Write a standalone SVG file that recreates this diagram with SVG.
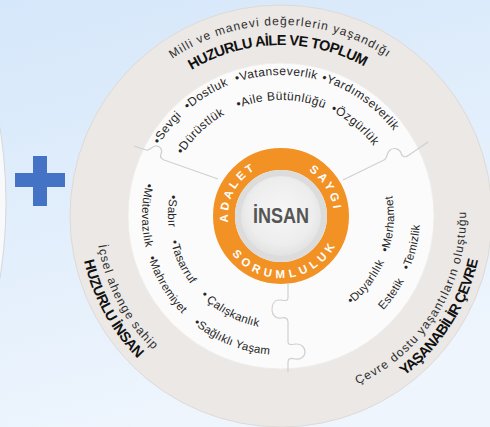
<svg xmlns="http://www.w3.org/2000/svg" width="490" height="427" viewBox="0 0 490 427">
<defs>
  <linearGradient id="bg" x1="0" y1="0" x2="0.3" y2="1">
    <stop offset="0" stop-color="#d5e7fa"/>
    <stop offset="1" stop-color="#eef5fd"/>
  </linearGradient>
  <radialGradient id="plate" cx="0.5" cy="0.45" r="0.55">
    <stop offset="0" stop-color="#f7f7f7"/>
    <stop offset="0.75" stop-color="#ededed"/>
    <stop offset="1" stop-color="#e2e2e2"/>
  </radialGradient>
  <path id="tp191" d="M134.69,338.77 A191,191 0 1 1 427.31,338.77"/>
  <path id="tp171" d="M150.01,325.92 A171,171 0 1 1 411.99,325.92"/>
  <path id="tp141" d="M172.99,306.63 A141,141 0 1 1 389.01,306.63"/>
  <path id="tp116" d="M192.14,290.56 A116,116 0 1 1 369.86,290.56"/>
  <path id="tp53" d="M240.40,250.07 A53,53 0 1 1 321.60,250.07"/>
  <path id="bp202" d="M126.26,86.16 A202,202 0 1 0 435.74,86.16"/>
  <path id="bp185" d="M139.28,97.08 A185,185 0 1 0 422.72,97.08"/>
  <path id="bp139" d="M174.52,126.65 A139,139 0 1 0 387.48,126.65"/>
  <path id="bp113" d="M194.44,143.36 A113,113 0 1 0 367.56,143.36"/>
  <path id="bp62" d="M233.51,176.15 A62,62 0 1 0 328.49,176.15"/>
</defs>
<style>
  text { font-family: "Liberation Sans", Arial, sans-serif; text-anchor: middle; }
  .val { font-size: 12px; fill: #262626; letter-spacing: 0.45px; }
  .valb { font-size: 11.5px; fill: #262626; letter-spacing: 0.25px; }
  .sub { font-size: 12px; fill: #2e2e2e; }
  .ttl { font-size: 14.5px; font-weight: bold; fill: #111111; }
  .ring { font-size: 11.5px; font-weight: bold; fill: #ffffff; }
  .puz { fill: none; stroke: #d0d0d0; stroke-width: 1.2; }
</style>

<rect width="490" height="427" fill="url(#bg)"/>

<g id="left-circle">
  <circle cx="-466" cy="203" r="472" fill="#f8f9fa" stroke="#d6d8da" stroke-width="1"/>
</g>

<g id="plus">
  <rect x="15" y="173" width="50" height="14" fill="#4472c4"/>
  <rect x="33" y="156" width="14" height="50" fill="#4472c4"/>
</g>

<g id="outer-ring">
  <circle cx="281" cy="216" r="211" fill="#ebe8e6" stroke="#dddad8" stroke-width="1"/>
  <circle cx="281" cy="216" r="153" fill="#fbfbfb" stroke="#f0eeec" stroke-width="1"/>
</g>

<g id="puzzle-lines">
  <path class="puz" d="M288,284 V298 C288,302 283,300 279,300 C274,300 272,305 272,310 C272,315 276,319 281,318 C285,317 288,318 288,322 V342 C288,346 293,344 297,344 C302,344 305,348 305,352 C305,357 300,360 295,359 C291,358 288,358 288,362 V372"/>
  <path class="puz" d="M134,146 L146,150 C150,151 151,147 155,146 C160,145 163,150 161,154 C159,158 163,160 167,161 L218,179"/>
  <path class="puz" d="M343,180 L384,160 C388,158 386,153 390,150 C394,147 400,149 401,153 C402,157 405,158 409,155 L428,142"/>
</g>

<g id="title-top">
  <text class="sub"><textPath href="#tp191" startOffset="431.7" textLength="228">Milli ve manevi değerlerin yaşandığı</textPath></text>
  <text class="ttl"><textPath href="#tp171" startOffset="384.41" textLength="181">HUZURLU AİLE VE TOPLUM</textPath></text>
</g>

<g id="title-left">
  <text class="ttl"><textPath href="#bp202" startOffset="242.56" textLength="113">HUZURLU İNSAN</textPath></text>
  <text class="sub"><textPath href="#bp185" startOffset="218.59" textLength="120">İçsel ahenge sahip</textPath></text>
</g>

<g id="title-right">
  <text class="ttl"><textPath href="#bp202" startOffset="661.04" textLength="140">YAŞANABİLİR ÇEVRE</textPath></text>
  <text class="sub"><textPath href="#bp185" startOffset="606.38" textLength="216">Çevre dostu yaşantıların oluştuğu</textPath></text>
</g>

<g id="values-top">
  <text class="val"><textPath href="#tp141" startOffset="191.21">•Sevgi</textPath></text>
  <text class="val"><textPath href="#tp141" startOffset="242.15">•Dostluk</textPath></text>
  <text class="val"><textPath href="#tp141" startOffset="315">•Vatanseverlik</textPath></text>
  <text class="val"><textPath href="#tp141" startOffset="405.31">•Yardımseverlik</textPath></text>
  <text class="val"><textPath href="#tp116" startOffset="174.92">•Dürüstlük</textPath></text>
  <text class="val"><textPath href="#tp116" startOffset="263.2">•Aile Bütünlüğü</textPath></text>
  <text class="val"><textPath href="#tp116" startOffset="342.15">•Özgürlük</textPath></text>
</g>

<g id="values-left">
  <text class="valb"><textPath href="#bp139" startOffset="96.31">•Mütevazılık</textPath></text>
  <text class="valb"><textPath href="#bp139" startOffset="172.26">•Mahremiyet</textPath></text>
  <text class="valb"><textPath href="#bp139" startOffset="262.26">•Sağlıklı Yaşam</textPath></text>
  <text class="valb"><textPath href="#bp113" startOffset="73.76">•Sabır</textPath></text>
  <text class="valb"><textPath href="#bp113" startOffset="128">•Tasarruf</textPath></text>
  <text class="valb"><textPath href="#bp113" startOffset="200.18">• Çalışkanlık</textPath></text>
</g>

<g id="values-right">
  <text class="valb"><textPath href="#bp139" startOffset="448.08">Estetik</textPath></text>
  <text class="valb"><textPath href="#bp139" startOffset="500.97">•Temizlik</textPath></text>
  <text class="valb"><textPath href="#bp113" startOffset="358.94">•Duyarlılık</textPath></text>
  <text class="valb"><textPath href="#bp113" startOffset="425.01">•Merhamet</textPath></text>
</g>

<g id="orange-ring">
  <circle cx="281" cy="216" r="57" fill="none" stroke="#f29225" stroke-width="22"/>
  <text class="ring" style="letter-spacing:3px"><textPath href="#tp53" startOffset="62.9">ADALET</textPath></text>
  <text class="ring" style="letter-spacing:3px"><textPath href="#tp53" startOffset="173.9">SAYGI</textPath></text>
  <text class="ring" style="letter-spacing:4.5px"><textPath href="#bp62" startOffset="147.17">SORUMLULUK</textPath></text>
</g>

<g id="insan">
  <circle cx="281" cy="216" r="46" fill="#dcdcdc"/>
  <circle cx="281" cy="216" r="40" fill="url(#plate)"/>
  <text x="0" y="0" transform="translate(281,223) scale(0.82,1)" style="font-size:22px;font-weight:bold;fill:#555555">İNSAN</text>
</g>
</svg>
